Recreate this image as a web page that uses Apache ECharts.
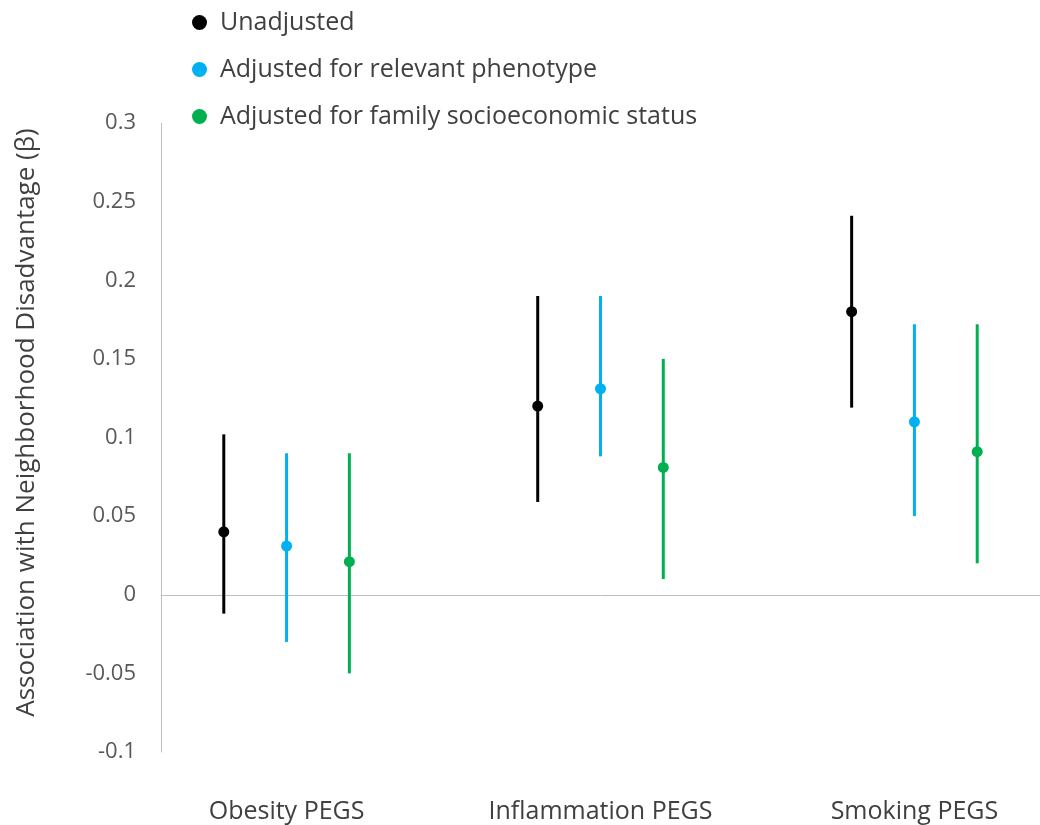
<!DOCTYPE html>
<html>
<head>
<meta charset="utf-8">
<script src="https://cdn.jsdelivr.net/npm/echarts@6/dist/echarts.min.js"></script>
<style>
  html, body { margin: 0; padding: 0; background: #fff; }
  #chart { width: 1040px; height: 825px; }
</style>
</head>
<body>
<div id="chart"></div>
<script>
// Groups along the x axis
const categories = ['Obesity PEGS', 'Inflammation PEGS', 'Smoking PEGS'];
const seriesNames = ['Unadjusted', 'Adjusted for relevant phenotype', 'Adjusted for family socioeconomic status'];
const seriesColors = ['#000000', '#00B0F0', '#00B050'];

// Estimates (β) per group
const unadjusted = [0.04, 0.12, 0.18];
const phenotypeAdj = [0.031, 0.131, 0.11];
const sesAdj = [0.021, 0.081, 0.091];

// Confidence interval bounds per group
const unadjustedLow = [-0.012, 0.059, 0.119];
const unadjustedHigh = [0.102, 0.19, 0.241];
const phenotypeLow = [-0.03, 0.088, 0.05];
const phenotypeHigh = [0.09, 0.19, 0.172];
const sesLow = [-0.05, 0.01, 0.02];
const sesHigh = [0.09, 0.15, 0.172];

// y-axis ticks
const yTicks = [-0.1, -0.05, 0, 0.05, 0.1, 0.15, 0.2, 0.25, 0.3];

const estimates = [unadjusted, phenotypeAdj, sesAdj];
const lows = [unadjustedLow, phenotypeLow, sesLow];
const highs = [unadjustedHigh, phenotypeHigh, sesHigh];
const offsets = [-0.2, 0, 0.2];

const fontMain = '"Open Sans", "Noto Sans", sans-serif';
const fontCat = '"Liberation Sans Narrow", "Open Sans", sans-serif';

const series = [];
// error bars first so the points sit on top
seriesNames.forEach((name, s) => {
  series.push({
    type: 'custom',
    xAxisIndex: 0,
    silent: true,
    data: categories.map((c, i) => [i + 1 + offsets[s], lows[s][i], highs[s][i]]),
    renderItem: function (params, api) {
      const lo = api.coord([api.value(0), api.value(1)]);
      const hi = api.coord([api.value(0), api.value(2)]);
      return {
        type: 'line',
        shape: { x1: lo[0], y1: lo[1], x2: hi[0], y2: hi[1] },
        style: { stroke: seriesColors[s], lineWidth: 3 }
      };
    },
    z: 2
  });
});
seriesNames.forEach((name, s) => {
  series.push({
    name: name,
    type: 'scatter',
    xAxisIndex: 0,
    symbol: 'circle',
    symbolSize: 11,
    itemStyle: { color: seriesColors[s], opacity: 1 },
    data: categories.map((c, i) => [i + 1 + offsets[s], estimates[s][i]]),
    z: 3
  });
});

const chart = echarts.init(document.getElementById('chart'));
chart.setOption({
  animation: false,
  backgroundColor: '#ffffff',
  legend: {
    data: seriesNames,
    orient: 'vertical',
    left: 187,
    top: 5,
    itemWidth: 15,
    itemHeight: 15,
    itemGap: 22,
    icon: 'circle',
    textStyle: { fontFamily: fontMain, fontSize: 25, color: '#404040', padding: [0, 0, 0, 8] }
  },
  grid: { left: 161, right: 0, top: 123, bottom: 73 },
  xAxis: [
    {
      // zero line crossing the y axis
      type: 'value',
      min: 0.6,
      max: 3.4,
      axisLine: { onZero: true, lineStyle: { color: '#BFBFBF', width: 1 } },
      axisTick: { show: false },
      axisLabel: { show: false },
      splitLine: { show: false }
    },
    {
      // group labels along the bottom
      type: 'value',
      min: 0.6,
      max: 3.4,
      position: 'bottom',
      axisLine: { show: false, onZero: false },
      axisTick: { show: false },
      splitLine: { show: false },
      axisLabel: {
        customValues: [1, 2, 3],
        formatter: v => categories[Math.round(v) - 1],
        margin: 47,
        fontFamily: fontCat,
        fontSize: 25,
        color: '#404040'
      }
    }
  ],
  yAxis: {
    type: 'value',
    min: yTicks[0],
    max: yTicks[yTicks.length - 1],
    interval: 0.05,
    name: 'Association with Neighborhood Disadvantage (β)',
    nameLocation: 'middle',
    nameGap: 121,
    nameTextStyle: { fontFamily: fontMain, fontSize: 26, color: '#404040', padding: [0, 0, 0, 30] },
    axisLine: { show: true, lineStyle: { color: '#BFBFBF', width: 1 } },
    axisTick: { show: false },
    splitLine: { show: false },
    axisLabel: {
      margin: 25,
      fontFamily: fontMain,
      fontSize: 22,
      color: '#595959',
      formatter: v => String(parseFloat(v.toFixed(2)))
    }
  },
  series: series
});
</script>
</body>
</html>
